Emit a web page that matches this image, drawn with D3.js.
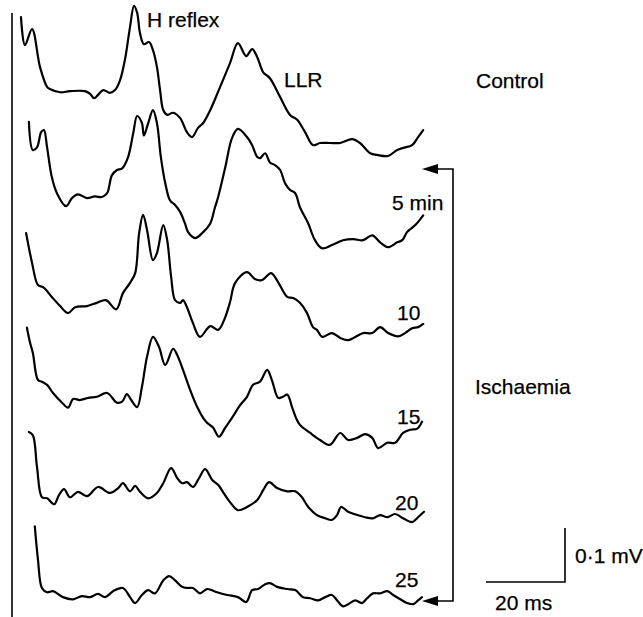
<!DOCTYPE html>
<html lang="en">
	<head>
		<meta charset="utf-8">
		<title>H reflex and LLR during ischaemia</title>
		<script type="text/javascript" src="https://cdn.jsdelivr.net/npm/d3@7"></script>
		<style type="text/css">
			body{
				margin: 0;
				background: white;
			}
			text{
				font-family: "Liberation Sans", Arial, Helvetica, sans-serif;
				font-size: 21px;
				fill: black;
				stroke: black;
				stroke-width: 0.25;
			}
			.trace{
				fill: none;
				stroke: black;
				stroke-width: 2.2;
				stroke-linejoin: round;
				stroke-linecap: round;
			}
			.rule{
				fill: none;
				stroke: black;
				stroke-width: 1.6;
			}
		</style>
	</head>
	<body>
		<div class="chart"></div>
		<script type="text/javascript">

			// [time (ms), amplitude (µV)]
			var control = [[0,233],[1.0,181],[2.8,211],[4.8,141],[6.6,104],[7.3,100],[9.9,94],[12.4,96],[16.2,96],[17.5,91],[18.5,83],[19.5,89],[20.8,98],[22.5,93],[23.8,98],[25.1,117],[26.3,154],[27.6,215],[28.6,254],[29.4,241],[30.1,204],[31.1,183],[32.4,187],[33.4,172],[34.4,141],[35.2,98],[36.0,61],[37.0,52],[38.5,56],[40.3,46],[42.0,20],[43.3,11],[44.8,28],[46.1,37],[47.9,61],[50.4,104],[52.9,148],[54.9,185],[57.0,161],[58.5,174],[59.8,159],[61.3,131],[63.0,120],[65.6,85],[68.1,52],[69.9,43],[71.9,20],[73.9,-4],[75.7,0],[78.2,0],[80.8,0],[83.8,7],[85.8,0],[88.4,-19],[90.1,-22],[92.9,-24],[95.2,-13],[96.7,-9],[99.0,-4],[100.5,11],[101.8,24]];

			var min5 = [[2.0,219],[3.0,167],[4.05,172],[5.1,200],[5.8,204],[6.6,172],[7.8,117],[9.1,87],[11.4,63],[12.9,78],[14.4,85],[16.7,78],[18.7,81],[20.5,80],[21.8,87],[23.0,120],[24.3,130],[25.6,133],[27.1,154],[28.4,198],[29.4,230],[30.6,217],[31.1,194],[32.2,217],[33.4,241],[34.4,217],[35.4,154],[36.5,106],[37.7,74],[39.0,65],[40.3,52],[41.5,31],[42.3,15],[44.1,4],[46.1,15],[47.9,31],[49.1,61],[49.9,80],[51.7,135],[53.4,189],[54.9,206],[57.2,191],[58.5,176],[59.8,154],[60.5,152],[61.8,161],[63.0,144],[64.3,139],[65.6,130],[66.8,106],[68.1,93],[69.4,87],[70.6,61],[72.7,31],[74.4,0],[76.2,-15],[78.7,-9],[81.5,0],[84.1,2],[86.6,0],[88.9,9],[90.9,-4],[92.9,-13],[95.2,-4],[96.5,0],[97.7,15],[99.8,28],[101.8,46]];

			var min10 = [[1.3,185],[2.8,130],[4.3,89],[5.6,85],[7.8,67],[9.9,50],[11.9,37],[13.7,48],[16.7,50],[19.2,56],[21.5,61],[24.1,44],[25.8,74],[27.6,93],[28.9,111],[29.9,185],[30.9,219],[31.9,191],[33.4,135],[34.4,148],[36.0,200],[37.0,172],[38.0,104],[39.0,61],[40.3,56],[41.0,61],[42.0,48],[43.5,19],[45.3,-7],[47.9,13],[49.9,6],[51.4,24],[52.9,57],[54.2,93],[57.2,113],[59.2,100],[61.0,98],[63.3,111],[65.1,94],[67.4,67],[68.9,65],[70.6,56],[72.4,37],[73.9,11],[74.9,6],[76.2,-7],[78.7,0],[80.8,-9],[82.8,-13],[86.6,0],[88.9,0],[90.9,11],[92.9,0],[95.5,-6],[97.2,0],[99.0,9],[100.5,11],[101.8,17]];

			var min15 = [[1.5,204],[2.3,176],[3.0,157],[4.3,107],[5.3,104],[6.6,98],[8.1,83],[10.4,65],[11.9,56],[13.2,72],[14.9,70],[17.0,74],[19.2,76],[21.8,83],[24.3,65],[25.6,67],[26.8,81],[27.9,70],[29.4,57],[30.6,94],[31.9,150],[33.4,187],[34.9,169],[36.5,135],[38.5,165],[39.5,154],[41.0,126],[42.8,89],[44.6,57],[46.1,37],[47.1,28],[48.6,19],[50.1,2],[51.7,19],[53.4,37],[55.5,61],[57.2,76],[58.7,98],[60.5,104],[62.3,126],[63.5,107],[65.1,74],[66.3,76],[67.4,80],[68.6,57],[69.6,37],[70.6,24],[73.2,9],[75.7,-4],[78.2,-13],[80.8,9],[82.8,-4],[85.1,0],[87.1,7],[88.9,0],[90.4,-19],[92.7,-9],[94.7,-9],[96.7,9],[98.5,15],[100.3,17],[101.5,30]];

			var min20 = [[2.0,154],[3.0,148],[4.05,89],[5.3,33],[6.6,31],[8.4,20],[9.6,37],[10.9,48],[12.4,33],[14.4,43],[16.7,35],[19.5,52],[22.5,41],[24.6,50],[25.8,59],[27.6,44],[28.9,54],[30.1,43],[32.2,31],[34.4,41],[36.0,59],[38.0,87],[39.5,69],[40.8,59],[42.0,61],[43.5,52],[45.1,69],[46.6,85],[48.4,65],[49.9,56],[51.1,43],[52.9,24],[54.9,9],[57.2,15],[59.8,28],[61.3,46],[62.8,61],[64.8,50],[67.4,44],[69.4,44],[71.1,33],[72.7,15],[74.9,0],[77.0,-6],[78.7,-9],[80.0,0],[81.0,15],[82.8,6],[85.1,0],[87.1,-4],[89.1,-6],[90.9,0],[92.7,-4],[94.7,2],[96.7,-6],[99.0,-13],[100.5,-4],[102.0,6]];

			var min25 = [[3.5,131],[4.3,69],[5.3,17],[6.6,9],[8.1,11],[10.6,0],[13.2,-4],[15.4,2],[17.5,0],[19.5,6],[21.3,0],[23.3,11],[25.8,17],[27.6,0],[28.9,-11],[30.6,4],[32.2,13],[33.9,7],[36.0,31],[37.5,39],[39.0,31],[40.8,19],[42.0,17],[43.5,17],[45.3,7],[47.1,15],[49.6,9],[52.2,4],[54.9,0],[57.0,-9],[58.5,13],[60.0,15],[61.8,24],[63.0,26],[64.8,19],[67.4,15],[69.4,13],[71.4,0],[73.2,-2],[75.2,-6],[77.0,0],[78.7,4],[80.0,-6],[81.5,-17],[82.8,-13],[84.6,-6],[86.3,-11],[87.6,-2],[89.1,7],[90.9,7],[92.7,11],[94.2,4],[96.0,-4],[97.7,-11],[99.3,-13],[100.5,-6],[101.5,0]];

			var traces = [control, min5, min10, min15, min20, min25];
			var traceLabels = ["", "5 min", "10", "15", "20", "25"];

			// vertical stacking of the records (µV)
			var stackOffset = [0, 180, 352, 546, 689, 841];

			// scale bars
			var barMs = 20;
			var barUv = 100;

			var w = 643;
			var h = 617;

			var svg = d3.select("div.chart")
						.append("svg")
						.attr("width", w)
						.attr("height", h);

			var xScale = d3.scaleLinear()
							.domain([0, 102])
							.range([21, 424]);

			var yScale = d3.scaleLinear()
							.domain([-850, 250])
							.range([602, 8]);

			// left border line
			svg.append("line")
				.attr("class", "rule")
				.attr("x1", 12)
				.attr("x2", 12)
				.attr("y1", 13)
				.attr("y2", 617);

			traces.forEach(function(data, i){
				var off = stackOffset[i];
				var line = d3.line()
							.x((d)=> xScale(d[0]))
							.y((d)=> yScale(d[1] - off))
							.curve(d3.curveCatmullRom.alpha(0.5));

				svg.append("path")
					.datum(data)
					.attr("class", "trace")
					.attr("d", line);
			});

			// trace labels, placed just above the end of each record
			var labelX = [0, 392, 397, 397, 395, 395];
			var labelDy = [0, -30, -13, -14, -5, -10];

			traceLabels.forEach(function(t, i){
				if (t == "") return;
				svg.append("text")
					.attr("x", labelX[i])
					.attr("y", yScale(-stackOffset[i]) + labelDy[i])
					.text(t);
			});

			svg.append("text")
				.attr("x", 147)
				.attr("y", 27)
				.text("H reflex");

			svg.append("text")
				.attr("x", 284)
				.attr("y", 87)
				.text("LLR");

			svg.append("text")
				.attr("x", 476)
				.attr("y", 88)
				.text("Control");

			svg.append("text")
				.attr("x", 475)
				.attr("y", 394)
				.text("Ischaemia");

			// ischaemia bracket with arrows
			var topY = 169, botY = 601, bx = 453, tipX = 422;

			svg.append("path")
				.attr("class", "rule")
				.attr("d", "M" + (tipX + 10) + "," + topY + "H" + bx + "V" + botY + "H" + (tipX + 10));

			[topY, botY].forEach(function(y){
				svg.append("path")
					.attr("d", "M" + tipX + "," + y + "L" + (tipX + 16) + "," + (y - 5) + "L" + (tipX + 16) + "," + (y + 5) + "Z")
					.attr("fill", "black");
			});

			// calibration bars
			var cx = 565, cy = 582;
			var barW = xScale(barMs) - xScale(0);
			var barH = yScale(0) - yScale(barUv);

			svg.append("path")
				.attr("class", "rule")
				.attr("d", "M" + (cx - barW) + "," + cy + "H" + cx + "V" + (cy - barH));

			svg.append("text")
				.attr("x", 575)
				.attr("y", 563)
				.text("0·1 mV");

			svg.append("text")
				.attr("x", 495)
				.attr("y", 610)
				.text("20 ms");

		</script>
	</body>
</html>
